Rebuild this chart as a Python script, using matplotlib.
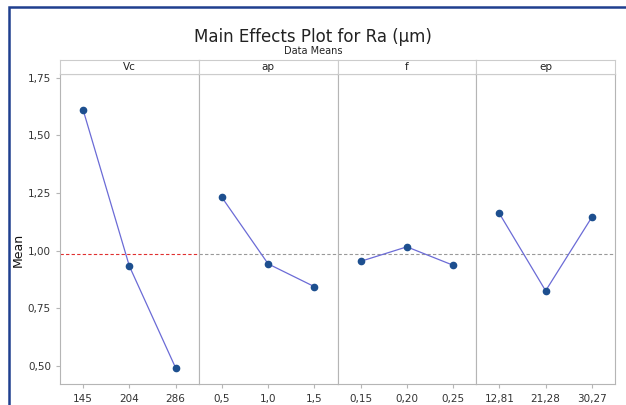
import numpy as np
import matplotlib.pyplot as plt
from matplotlib.patches import Rectangle

# factors and their levels
factors = ["Vc", "ap", "f", "ep"]
levels = [["145", "204", "286"],
          ["0,5", "1,0", "1,5"],
          ["0,15", "0,20", "0,25"],
          ["12,81", "21,28", "30,27"]]
# mean Ra for each level
means = [[1.611, 0.932, 0.490],
         [1.231, 0.942, 0.843],
         [0.953, 1.016, 0.936],
         [1.161, 0.825, 1.145]]
grand_mean = 0.984
yticks = [0.50, 0.75, 1.00, 1.25, 1.50, 1.75]
ytick_labels = ["0,50", "0,75", "1,00", "1,25", "1,50", "1,75"]

fig = plt.figure(figsize=(6.26, 4.05), dpi=100)
W, H = 626.0, 405.0

# blue frame round the figure
fig.patches.append(Rectangle((9/W, -0.01), 1.0, 1 - 7/H + 0.01, transform=fig.transFigure,
                             fill=False, edgecolor="#1f3f8f", linewidth=1.8))

fig.text(0.5, 1 - 37/H, "Main Effects Plot for Ra (µm)", ha="center", va="center",
         fontsize=12, color="#222222")
fig.text(0.5, 1 - 51/H, "Data Means", ha="center", va="center", fontsize=7, color="#222222")
fig.text(18/W, 1 - 250/H, "Mean", rotation=90, ha="center", va="center", fontsize=9, color="#111111")

left = 60/W
pw = (615 - 60)/4/W
bottom = 1 - 384/H
top = 1 - 74/H
strip_h = 14/H
gray = "#b5b5b5"

for i in range(4):
    ax = fig.add_axes([left + i*pw, bottom, pw, top - bottom])
    x = np.arange(1, 4)
    ax.axhline(grand_mean, color="#e03030" if i == 0 else "#999999", linestyle=(0, (3, 2)),
               linewidth=0.8, zorder=1)
    ax.plot(x, means[i], color="#6b6bd6", linewidth=0.9, zorder=2)
    ax.plot(x, means[i], "o", color="#1d4f8f", markersize=4.5, zorder=3)
    ax.set_xlim(0.5, 3.5)
    ax.set_ylim(0.42, 1.767)
    ax.set_xticks(x)
    ax.set_xticklabels(levels[i], fontsize=7.5, color="#333333")
    ax.set_yticks(yticks)
    if i == 0:
        ax.set_yticklabels(ytick_labels, fontsize=7.5, color="#333333")
        ax.tick_params(axis="y", length=3, color=gray)
    else:
        ax.tick_params(axis="y", left=False, labelleft=False)
    ax.tick_params(axis="x", length=3, color=gray, pad=4)
    for s in ax.spines.values():
        s.set_color(gray)
        s.set_linewidth(0.8)

    # strip with the factor name
    sa = fig.add_axes([left + i*pw, top, pw, strip_h])
    sa.set_xticks([])
    sa.set_yticks([])
    for s in sa.spines.values():
        s.set_color("#cccccc")
        s.set_linewidth(0.8)
    sa.text(0.5, 0.5, factors[i], ha="center", va="center", fontsize=7.5, color="#222222",
            transform=sa.transAxes)

fig.savefig("out.png", dpi=100)
